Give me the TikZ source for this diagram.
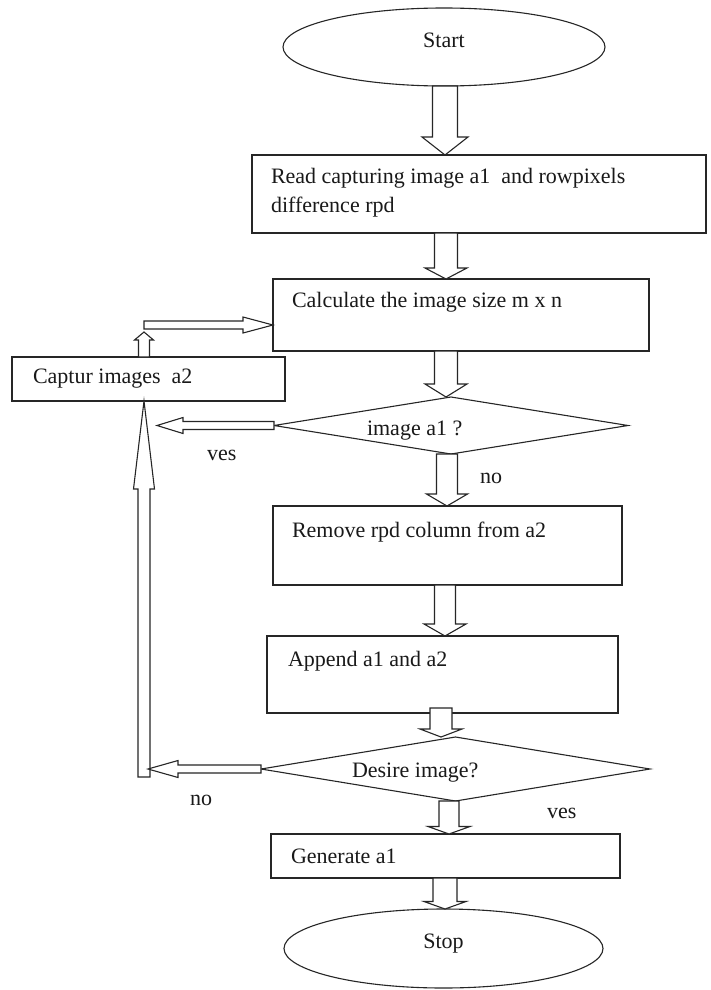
\documentclass[tikz,border=0pt]{standalone}
\usepackage{fontspec}
\setmainfont{Liberation Serif}
\usetikzlibrary{shapes.geometric,calc}

% hollow block arrows: #1 start, #2 tip, #3 shaft half width, #4 head half width, #5 head length
\newcommand{\bdown}[5]{%
  \path (#1) coordinate (bA) (#2) coordinate (bB);
  \draw[blk] ($(bA)+(-#3,0)$) -- ($(bB)+(-#3,-#5)$) -- ($(bB)+(-#4,-#5)$) -- (bB)
    -- ($(bB)+(#4,-#5)$) -- ($(bB)+(#3,-#5)$) -- ($(bA)+(#3,0)$) -- cycle;}
\newcommand{\bup}[5]{%
  \path (#1) coordinate (bA) (#2) coordinate (bB);
  \draw[blk] ($(bA)+(-#3,0)$) -- ($(bB)+(-#3,#5)$) -- ($(bB)+(-#4,#5)$) -- (bB)
    -- ($(bB)+(#4,#5)$) -- ($(bB)+(#3,#5)$) -- ($(bA)+(#3,0)$) -- cycle;}
\newcommand{\bleft}[5]{%
  \path (#1) coordinate (bA) (#2) coordinate (bB);
  \draw[blk] ($(bA)+(0,-#3)$) -- ($(bB)+(#5,-#3)$) -- ($(bB)+(#5,-#4)$) -- (bB)
    -- ($(bB)+(#5,#4)$) -- ($(bB)+(#5,#3)$) -- ($(bA)+(0,#3)$) -- cycle;}
\newcommand{\bright}[5]{%
  \path (#1) coordinate (bA) (#2) coordinate (bB);
  \draw[blk] ($(bA)+(0,-#3)$) -- ($(bB)+(-#5,-#3)$) -- ($(bB)+(-#5,-#4)$) -- (bB)
    -- ($(bB)+(-#5,#4)$) -- ($(bB)+(-#5,#3)$) -- ($(bA)+(0,#3)$) -- cycle;}

\tikzset{
  ln/.style={draw=black!85, line width=1.1pt},
  blk/.style={ln, fill=white, line join=miter},
  boxnode/.style={ln, rectangle, fill=white, inner sep=0pt, outer sep=0pt},
  ovalnode/.style={ln, ellipse, fill=white, inner sep=0pt, outer sep=0pt},
  dianode/.style={ln, diamond, fill=white, inner sep=0pt, outer sep=0pt},
  txt/.style={inner sep=0pt, outer sep=0pt, text=black!90, font=\fontsize{22}{29}\selectfont}
}

\begin{document}
\begin{tikzpicture}[x=1pt, y=-1pt]
\useasboundingbox (0,0) rectangle (710,990);
\fill[white] (0,0) rectangle (710,990);

% shapes
\node[ovalnode, minimum width=322pt, minimum height=78pt] (start) at (444,47) {};
\node[boxnode, minimum width=454pt, minimum height=78pt] (read) at (479,194) {};
\node[boxnode, minimum width=376pt, minimum height=72pt] (calc) at (461,315) {};
\node[boxnode, minimum width=273pt, minimum height=44pt] (captur) at (148.5,379) {};
\node[dianode, minimum width=354pt, minimum height=57pt] (dia1) at (451,425.5) {};
\node[boxnode, minimum width=349pt, minimum height=79pt] (remove) at (447.5,545.5) {};
\node[boxnode, minimum width=351pt, minimum height=77pt] (append) at (442.5,674.5) {};
\node[dianode, minimum width=389pt, minimum height=64pt] (desire) at (455.5,769) {};
\node[boxnode, minimum width=349pt, minimum height=44pt] (generate) at (445.5,856) {};
\node[ovalnode, minimum width=319pt, minimum height=79pt] (stop) at (443.5,948.5) {};

% x positions of the vertical arrows and loop coordinates
\coordinate (ax1) at (445,0);
\coordinate (ax2) at (446,0);
\coordinate (ax4) at (447,0);
\coordinate (ax6) at (441,0);
\coordinate (ax7) at (449,0);
\coordinate (axl) at (144,0);
\coordinate (loopbot) at (144,777);
\coordinate (looptop) at (144,325);
\coordinate (yestip) at (157,425.5);
\coordinate (notip) at (148,769);

% main flow arrows
\bdown{start.south -| ax1}{read.north -| ax1}{12.5}{23}{18}
\bdown{read.south -| ax2}{calc.north -| ax2}{11.5}{21}{11}
\bdown{calc.south -| ax2}{dia1.north -| ax2}{11.5}{21}{13}
\bdown{dia1.south -| ax4}{remove.north -| ax4}{10.5}{20.5}{12}
\bdown{remove.south -| ax1}{append.north -| ax1}{10.5}{21}{12}
\bdown{$(append.south -| ax6)+(0,-5)$}{desire.north -| ax6}{11}{21}{8}
\bdown{desire.south -| ax7}{generate.north -| ax7}{10}{21}{7.5}
\bdown{generate.south -| ax1}{stop.north -| ax1}{12}{21}{7.5}

% loop arrows
\bleft{dia1.west}{yestip}{4}{8}{26}
\bup{loopbot}{captur.south -| axl}{6}{10.5}{88}
\bleft{desire.west}{notip}{4}{8.5}{30}
\bup{captur.north -| axl}{$(looptop)+(0,7)$}{5.5}{9.5}{8}
\bright{looptop}{looptop -| calc.west}{4}{8}{30}

% texts
\node[txt, anchor=base] (tstart) at (444,48) {Start};
\node[txt, anchor=base west, align=left] (tread) at (271,212) {Read capturing image a1\ \ and rowpixels\\difference rpd};
\node[txt, anchor=base west] (tcalc) at (292,307) {Calculate the image size m x n};
\node[txt, anchor=base west] (tcaptur) at (33,383) {Captur images\ \ a2};
\node[txt, anchor=base west] (tdia1) at (367,435) {image a1 ?};
\node[txt, anchor=base west] (tremove) at (292,537) {Remove rpd column from a2};
\node[txt, anchor=base west] (tappend) at (288,666) {Append a1 and a2};
\node[txt, anchor=base west] (tdesire) at (352,777) {Desire image?};
\node[txt, anchor=base west] (tgenerate) at (291,863) {Generate a1};
\node[txt, anchor=base] (tstop) at (443.5,948) {Stop};
\node[txt, anchor=base west] (lno1) at (480,483) {no};
\node[txt, anchor=base west] (lyes1) at (207,460) {ves};
\node[txt, anchor=base west] (lno2) at (190,805) {no};
\node[txt, anchor=base west] (lyes2) at (547,818) {ves};
\end{tikzpicture}
\end{document}
